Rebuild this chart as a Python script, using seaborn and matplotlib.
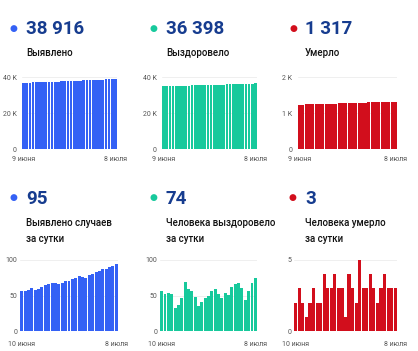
import matplotlib as mpl
mpl.use('Agg')
import matplotlib.pyplot as plt
import seaborn as sns
import pandas as pd
import numpy as np

sns.set_style('white')
plt.rcParams['font.family'] = ['Roboto', 'DejaVu Sans']

#%% data
cum_dates = pd.date_range('2020-06-09', '2020-07-08')
day_dates = pd.date_range('2020-06-10', '2020-07-08')

cases_cum = [36810, 36867, 36923, 36981, 37042, 37100, 37159, 37221, 37286, 37352,
             37419, 37487, 37553, 37620, 37690, 37761, 37834, 37909, 37987, 38063,
             38138, 38217, 38297, 38380, 38464, 38551, 38639, 38729, 38821, 38916]
recov_cum = [34849, 34905, 34957, 35010, 35062, 35094, 35131, 35178, 35247, 35306,
             35363, 35411, 35446, 35487, 35534, 35583, 35639, 35698, 35750, 35796,
             35849, 35900, 35962, 36028, 36095, 36156, 36200, 36257, 36324, 36398]
death_cum = [1234, 1236, 1239, 1241, 1242, 1244, 1247, 1249, 1251, 1255,
             1258, 1261, 1265, 1268, 1271, 1272, 1276, 1279, 1281, 1286,
             1289, 1292, 1296, 1299, 1301, 1304, 1308, 1311, 1314, 1317]

cases_day = [57, 56, 58, 61, 58, 59, 62, 65, 66, 67, 68, 66, 67, 70, 71,
             73, 75, 78, 76, 75, 79, 80, 83, 84, 87, 88, 90, 92, 95]
recov_day = [56, 52, 53, 52, 32, 37, 47, 69, 59, 57, 48, 35, 41, 47, 49,
             56, 59, 52, 46, 53, 51, 62, 66, 67, 61, 44, 57, 67, 74]
death_day = [2, 3, 2, 1, 2, 3, 2, 2, 4, 3, 3, 4, 3, 3, 1,
             4, 3, 2, 5, 3, 3, 4, 3, 2, 3, 4, 3, 3, 3]

headline = ['38 916', '36 398', '1 317', '95', '74', '3']
titles = ['Выявлено', 'Выздоровело', 'Умерло',
          'Выявлено случаев\nза сутки', 'Человека выздоровело\nза сутки', 'Человека умерло\nза сутки']
yticks = [[0, 20000, 40000], [0, 20000, 40000], [0, 1000, 2000],
          [0, 50, 100], [0, 50, 100], [0, 5]]
ytick_labels = [['0', '20 K', '40 K'], ['0', '20 K', '40 K'], ['0', '1 K', '2 K'],
                ['0', '50', '100'], ['0', '50', '100'], ['0', '5']]

months = {6: 'июня', 7: 'июля'}
def ru(d):
    return f'{d.day} {months[d.month]}'

BLUE = '#3461f5'
GREEN = '#17c99c'
RED = '#d20e1c'
NAVY = '#163c8f'

W, H = 418, 351
fig = plt.figure(figsize=(W / 100, H / 100), dpi=100)
fig.patch.set_facecolor('white')

# axes boxes in pixels: left, right, top, bottom
boxes = [(22, 117, 77, 149), (162, 257, 77, 149), (298, 397, 77, 149),
         (20, 118, 260, 331), (160, 257, 260, 331), (294, 397, 260, 331)]
series = [cases_cum, recov_cum, death_cum, cases_day, recov_day, death_day]
colors = [BLUE, GREEN, RED, BLUE, GREEN, RED]
dates = [cum_dates] * 3 + [day_dates] * 3
text_x = [(13, 26), (153, 166), (293, 305), (13, 26), (153, 166), (292, 305)]

for i in range(6):
    l, r, t, b = boxes[i]
    ax = fig.add_axes([l / W, 1 - b / H, (r - l) / W, (b - t) / H])
    vals = series[i]
    df = pd.DataFrame({'d': [ru(d) for d in dates[i]], 'v': vals})
    sns.barplot(data=df, x='d', y='v', color=colors[i], saturation=1,
                width=0.88, linewidth=0, ax=ax, zorder=3)
    n = len(vals)
    ax.set_xlim(-0.5, n - 0.5)
    ax.set_ylim(0, yticks[i][-1])
    ax.set_yticks(yticks[i])
    ax.set_yticklabels(ytick_labels[i], fontsize=5, color='#555555')
    ax.set_xticks([0, n - 1])
    ax.set_xticklabels([df['d'].iloc[0], df['d'].iloc[-1]], fontsize=5, color='#555555')
    ax.tick_params(axis='y', length=0, pad=4 if i < 3 else 2)
    ax.tick_params(axis='x', length=0, pad=5 if i < 3 else 7)
    ax.set_xlabel('')
    ax.set_ylabel('')
    ax.grid(axis='y', color='#ececec', lw=0.6, zorder=0)
    ax.set_axisbelow(True)
    sns.despine(ax=ax, left=True, bottom=True)

    # headline number, dot and title
    dx, tx = text_x[i]
    ny = 28 if i < 3 else 197
    fig.text(dx / W, 1 - ny / H, '●', color=colors[i], fontsize=6.5,
             ha='center', va='center', family=['DejaVu Sans'])
    fig.text(tx / W, 1 - (ny + 6.5) / H, headline[i], color=NAVY, fontsize=13.5,
             fontweight='bold', ha='left', va='baseline')
    ty = 53 if i < 3 else 223
    fig.text(tx / W, 1 - (ty - 5) / H, titles[i], color='#111111', fontsize=7,
             fontweight='medium', ha='left', va='top', linespacing=1.75)

fig.savefig('out.png', dpi=100, facecolor='white')
